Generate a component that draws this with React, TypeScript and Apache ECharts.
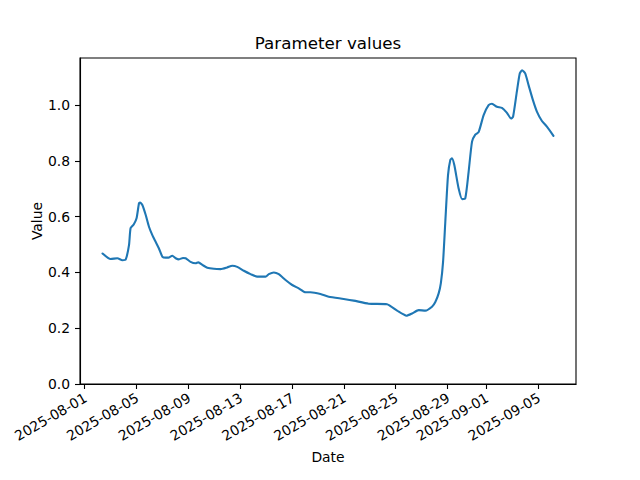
import React, { useEffect, useRef } from "react";
import * as echarts from "echarts";

const times: string[] = [
  "2025-08-02T09:00", "2025-08-03T00:00", "2025-08-03T12:30", "2025-08-03T21:45", "2025-08-04T04:00",
  "2025-08-04T10:00", "2025-08-04T13:00", "2025-08-04T19:00", "2025-08-05T00:00", "2025-08-05T04:30",
  "2025-08-05T06:20", "2025-08-05T10:45", "2025-08-05T17:00", "2025-08-05T23:00", "2025-08-06T05:15",
  "2025-08-06T11:20", "2025-08-06T17:30", "2025-08-07T00:00", "2025-08-07T06:00", "2025-08-07T11:00",
  "2025-08-07T18:15", "2025-08-08T00:30", "2025-08-08T06:30", "2025-08-08T14:00", "2025-08-08T19:00",
  "2025-08-09T04:00", "2025-08-09T13:30", "2025-08-09T18:30", "2025-08-10T02:00", "2025-08-10T11:00",
  "2025-08-10T23:15", "2025-08-11T11:40", "2025-08-12T00:00", "2025-08-12T09:20", "2025-08-12T18:30",
  "2025-08-13T06:45", "2025-08-13T19:10", "2025-08-14T07:30", "2025-08-14T23:00", "2025-08-15T05:00",
  "2025-08-15T14:15", "2025-08-15T23:30", "2025-08-16T12:00", "2025-08-17T00:20", "2025-08-17T12:30",
  "2025-08-18T01:00", "2025-08-18T10:00", "2025-08-19T04:40", "2025-08-19T20:00", "2025-08-20T23:45",
  "2025-08-21T18:15", "2025-08-22T22:00", "2025-08-24T08:00", "2025-08-25T02:40", "2025-08-25T20:00",
  "2025-08-26T06:30", "2025-08-26T18:40", "2025-08-27T07:00", "2025-08-27T19:20", "2025-08-28T01:30",
  "2025-08-28T07:40", "2025-08-28T11:45", "2025-08-28T15:50", "2025-08-28T20:00", "2025-08-29T01:00",
  "2025-08-29T05:15", "2025-08-29T08:20", "2025-08-29T12:40", "2025-08-29T20:40", "2025-08-30T03:00",
  "2025-08-30T09:00", "2025-08-30T15:10", "2025-08-30T21:30", "2025-08-31T03:30", "2025-08-31T09:40",
  "2025-08-31T19:00", "2025-09-01T04:10", "2025-09-01T10:20", "2025-09-01T19:40", "2025-09-02T04:50",
  "2025-09-02T13:50", "2025-09-02T21:50", "2025-09-03T01:30", "2025-09-03T08:40", "2025-09-03T14:00",
  "2025-09-03T18:10", "2025-09-04T00:00", "2025-09-04T06:30", "2025-09-04T14:20", "2025-09-04T21:40",
  "2025-09-05T07:00", "2025-09-05T16:10", "2025-09-06T04:20",
];

const values: number[] = [
  0.468, 0.448, 0.451, 0.444, 0.447,
  0.498, 0.559, 0.573, 0.594, 0.648,
  0.651, 0.642, 0.606, 0.564, 0.534,
  0.510, 0.486, 0.456, 0.453, 0.453,
  0.460, 0.451, 0.447, 0.452, 0.451,
  0.438, 0.433, 0.436, 0.427, 0.417,
  0.413, 0.412, 0.418, 0.424, 0.420,
  0.406, 0.394, 0.385, 0.385, 0.394,
  0.400, 0.394, 0.373, 0.355, 0.343,
  0.329, 0.329, 0.323, 0.313, 0.305,
  0.299, 0.288, 0.286, 0.263, 0.245,
  0.253, 0.265, 0.263, 0.277, 0.294,
  0.325, 0.362, 0.438, 0.582, 0.749,
  0.803, 0.809, 0.785, 0.701, 0.663,
  0.666, 0.761, 0.869, 0.894, 0.903,
  0.964, 1.000, 1.005, 0.994, 0.990,
  0.973, 0.952, 0.958, 1.050, 1.114,
  1.125, 1.114, 1.070, 1.018, 0.977,
  0.943, 0.923, 0.890,
];

const xTickDates: string[] = [
  "2025-08-01", "2025-08-05", "2025-08-09", "2025-08-13", "2025-08-17",
  "2025-08-21", "2025-08-25", "2025-08-29", "2025-09-01", "2025-09-05",
];

const yTicks: number[] = [0, 0.2, 0.4, 0.6, 0.8, 1.0];

const parseUTC = (s: string) => Date.parse(s.length <= 10 ? s + "T00:00:00Z" : s + ":00Z");
const fmtUTC = (v: number) => {
  const d = new Date(v);
  const p = (n: number) => String(n).padStart(2, "0");
  return `${d.getUTCFullYear()}-${p(d.getUTCMonth() + 1)}-${p(d.getUTCDate())}`;
};

const FONT = "DejaVu Sans";

export default function App() {
  const ref = useRef<HTMLDivElement>(null);
  useEffect(() => {
    if (!ref.current) return;
    const chart = echarts.init(ref.current, undefined, { renderer: "svg" });
    const ts = times.map(parseUTC);
    const tMin = Math.min(...ts);
    const tMax = Math.max(...ts);
    const span = tMax - tMin;
    const vMax = Math.max(...values);
    const vMin = Math.min(...values);
    const yMax = vMax + 0.05 * (vMax - vMin);
    const xTicks = xTickDates.map(parseUTC);

    chart.setOption({
      animation: false,
      backgroundColor: "#ffffff",
      title: {
        text: "Parameter values",
        left: 323,
        top: 29,
        textAlign: "center",
        textStyle: { fontFamily: FONT, fontSize: 16.7, fontWeight: "normal", color: "#000" },
      },
      grid: {
        left: 80,
        right: 64,
        top: 58,
        bottom: 96,
        show: true,
        borderColor: "#000",
        borderWidth: 1.1,
        backgroundColor: "transparent",
      },
      xAxis: {
        type: "value",
        min: tMin - 0.05 * span,
        max: tMax + 0.05 * span,
        name: "Date",
        nameLocation: "middle",
        nameGap: 66,
        nameMoveOverlap: false,
        nameTextStyle: { fontFamily: FONT, fontSize: 13.9, color: "#000" },
        axisLine: { show: true, onZero: false, lineStyle: { color: "#000", width: 1.1 } },
        axisTick: {
          show: true,
          inside: false,
          length: 5,
          customValues: xTicks,
          lineStyle: { color: "#000", width: 1.1 },
        },
        axisLabel: {
          show: true,
          customValues: xTicks,
          rotate: 30,
          margin: 5,
          padding: [0, 3, 0, 0],
          verticalAlign: "top",
          fontFamily: FONT,
          fontSize: 13.9,
          color: "#000",
          formatter: (v: number) => fmtUTC(v),
        },
        splitLine: { show: false },
      },
      yAxis: {
        type: "value",
        min: 0,
        max: yMax,
        name: "Value",
        nameLocation: "middle",
        nameGap: 36,
        nameMoveOverlap: false,
        nameTextStyle: { fontFamily: FONT, fontSize: 13.9, color: "#000" },
        axisLine: { show: true, lineStyle: { color: "#000", width: 1.1 } },
        axisTick: {
          show: true,
          inside: false,
          length: 5,
          customValues: yTicks,
          lineStyle: { color: "#000", width: 1.1 },
        },
        axisLabel: {
          show: true,
          customValues: yTicks,
          margin: 10,
          fontFamily: FONT,
          fontSize: 13.9,
          color: "#000",
          formatter: (v: number) => v.toFixed(1),
        },
        splitLine: { show: false },
      },
      series: [
        {
          type: "line",
          data: ts.map((t, i) => [t, values[i]]),
          showSymbol: false,
          smooth: 0.2,
          lineStyle: { color: "#1f77b4", width: 2.1, cap: "round", join: "round" },
          itemStyle: { color: "#1f77b4" },
        },
      ],
    });
    return () => chart.dispose();
  }, []);
  return (
    <div
      ref={ref}
      style={{ position: "absolute", left: 0, top: 0, width: 640, height: 480 }}
    />
  );
}
